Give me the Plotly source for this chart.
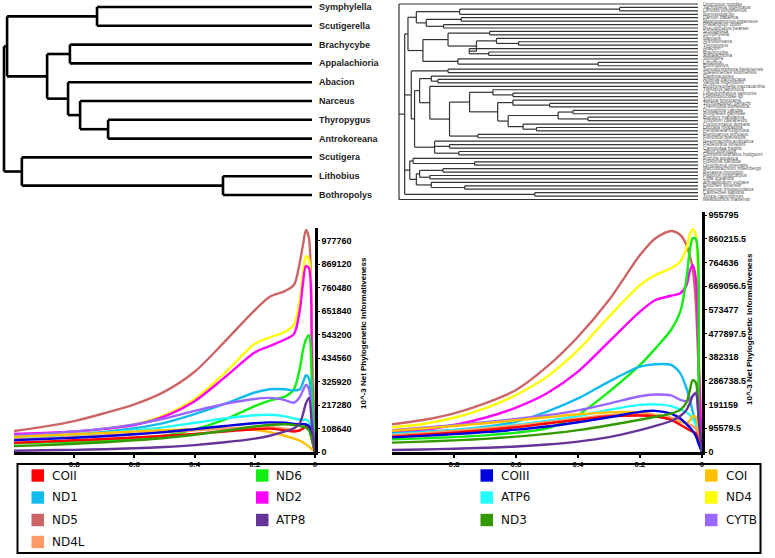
import plotly.graph_objects as go

W, H = 775, 558

# ---------------- curve data (values in thousands) ----------------
t_vals = [1.0, 0.9, 0.8, 0.7, 0.6, 0.5, 0.4, 0.3, 0.2, 0.15, 0.1, 0.07, 0.05, 0.04, 0.03, 0.02, 0.01, 0.0]

genes = ["COII", "ND6", "COIII", "COI", "ND1", "ND2", "ATP6", "ND4", "ND5", "ATP8", "ND3", "CYTB", "ND4L"]
gene_colors = ["#ff0000", "#11ee11", "#0000dd", "#ffc000", "#11bbee", "#ff00ff", "#22ffff",
               "#ffff00", "#cc6666", "#663399", "#339900", "#9966ff", "#ff9966"]
draw_order = ["ND5", "ND4", "ND2", "ND6", "ND1", "CYTB", "ATP6", "COI", "ND4L", "COII", "COIII", "ND3", "ATP8"]

L_COII = [43, 48, 54, 60, 67, 75, 84, 95, 105, 108, 100, 95, 100, 110, 120, 115, 60, 0]
L_ND6 = [40, 44, 48, 53, 60, 75, 105, 150, 212, 238, 256, 290, 390, 470, 520, 540, 300, 0]
L_COIII = [55, 60, 66, 73, 82, 92, 106, 120, 133, 137, 135, 130, 128, 130, 128, 120, 70, 0]
L_COI = [70, 76, 82, 88, 95, 101, 106, 110, 103, 92, 75, 62, 52, 45, 35, 25, 12, 0]
L_ND1 = [68, 74, 82, 93, 110, 135, 175, 222, 275, 290, 290, 285, 290, 320, 355, 340, 170, 0]
L_ND2 = [83, 88, 95, 107, 125, 165, 235, 345, 460, 490, 520, 545, 660, 780, 860, 850, 400, 0]
L_ATP6 = [63, 70, 78, 88, 100, 115, 135, 155, 170, 172, 165, 155, 150, 148, 150, 140, 80, 0]
L_ND4 = [80, 86, 93, 106, 127, 170, 245, 365, 500, 530, 555, 590, 710, 830, 905, 890, 450, 0]
L_ND5 = [97, 117, 143, 179, 220, 279, 371, 510, 656, 718, 744, 772, 880, 957, 1026, 988, 500, 0]
L_ATP8 = [6, 8, 10, 13, 17, 23, 32, 45, 62, 75, 95, 110, 135, 175, 225, 250, 120, 0]
L_ND3 = [27, 32, 38, 45, 54, 65, 80, 98, 118, 125, 128, 125, 120, 118, 112, 100, 55, 0]
L_CYTB = [78, 85, 95, 108, 128, 155, 190, 222, 245, 250, 240, 228, 255, 285, 310, 290, 150, 0]
L_ND4L = [58, 63, 69, 76, 84, 92, 100, 108, 115, 115, 108, 100, 102, 108, 115, 110, 55, 0]

R_COII = [62, 70, 78, 88, 100, 115, 130, 143, 147, 143, 130, 110, 95, 88, 82, 75, 40, 0]
R_ND6 = [51, 55, 60, 67, 78, 95, 149, 243, 351, 418, 492, 566, 700, 808, 862, 860, 100, 0]
R_COIII = [59, 65, 72, 80, 90, 103, 120, 140, 162, 166, 155, 135, 112, 100, 85, 65, 30, 0]
R_COI = [86, 95, 105, 116, 128, 140, 152, 160, 160, 150, 135, 122, 118, 125, 145, 140, 80, 0]
R_ND1 = [75, 82, 89, 102, 122, 163, 216, 284, 344, 354, 351, 317, 257, 216, 163, 122, 60, 0]
R_ND2 = [80, 89, 109, 138, 179, 237, 324, 445, 566, 613, 630, 640, 673, 727, 754, 700, 350, 0]
R_ATP6 = [70, 78, 88, 98, 110, 125, 145, 170, 190, 192, 185, 172, 160, 150, 135, 110, 60, 0]
R_ND4 = [100, 113, 138, 176, 230, 304, 411, 546, 673, 714, 741, 768, 821, 875, 899, 875, 400, 0]
R_ND5 = [112, 129, 156, 196, 250, 344, 465, 613, 794, 862, 891, 875, 835, 794, 741, 600, 300, 0]
R_ATP8 = [8, 10, 13, 17, 22, 30, 42, 60, 88, 105, 125, 145, 170, 195, 225, 235, 120, 0]
R_ND3 = [38, 42, 47, 53, 62, 73, 88, 108, 130, 142, 155, 170, 200, 245, 290, 280, 140, 0]
R_CYTB = [88, 98, 108, 120, 133, 148, 168, 195, 225, 232, 228, 210, 205, 212, 228, 240, 120, 0]
R_ND4L = [68, 76, 85, 95, 107, 120, 135, 148, 152, 148, 138, 125, 115, 110, 105, 95, 50, 0]

left_ticks = [0, 108640, 217280, 325920, 434560, 543200, 651840, 760480, 869120, 977760]
left_ticktext = ["0", "108640", "217280", "325920", "434560", "543200", "651840", "760480", "869120", "977760"]
right_ticks = [0, 95579.5, 191159, 286738.5, 382318, 477897.5, 573477, 669056.5, 764636, 860215.5, 955795]
right_ticktext = ["0", "95579.5", "191159", "286738.5", "382318", "477897.5", "573477", "669056.5",
                  "764636", "860215.5", "955795"]
x_ticks = [0.8, 0.6, 0.4, 0.2, 0.0]
x_ticktext = ["0.8", "0.6", "0.4", "0.2", "0"]
y_title = "10^-3 Net Phylogenetic Informativeness"

# ---------------- tree data ----------------
left_tree = (0.0, [
    (0.010, [
        (0.302, ["Symphylella", "Scutigerella"]),
        (0.140, [
            (0.214, ["Brachycybe", "Appalachioria"]),
            (0.208, ["Abacion", (0.247, ["Narceus", (0.338, ["Thyropygus", "Antrokoreana"])])]),
        ]),
    ]),
    (0.058, ["Scutigera", (0.711, ["Lithobius", "Bothropolys"])]),
])

right_names = [
    "Uroctonus mordax", "Tachypleus tridentatus", "Limulus polyphemus", "Nomostoga sp",
    "Damon diadema", "Mastigoproctus giganteus", "Phalangium opilio", "Pseudocellus pearsei",
    "Scutigerella", "Symphylella", "Narceus", "Antrokoreana", "Thyropygus", "Abacion",
    "Brachycybe", "Appalachioria", "Scutigera", "Lithobius", "Bothropolys",
    "Tetrodontophora bielanensis", "Speleonectes tulumensis", "Daphnia pulex",
    "Artemia franciscana", "Vargula hilgendorfii", "Hutchinsoniella macracantha",
    "Tigriopus japonicus", "Lepeophtheirus salmonis", "Lepidopsocidae sp", "Atelura formicaria",
    "Tricholepidion gertschi", "Thermobia domestica", "Drosophila yakuba", "Anopheles gambiae",
    "Bombyx mandarina", "Tribolium castaneum", "Cyclommatus dorsalis", "Locusta migratoria",
    "Periplaneta fuliginosa", "Pteronarcys princeps", "Petrobius brevistylis",
    "Nesomachilis australica", "Pedetontus silvestrii", "Campodea fragilis", "Japyx solifugus",
    "Gomphiocephalus hodgsoni", "Podura aquatica", "Folsomia candida", "Onychiurus orientalis",
    "Macrobrachium rosenbergii", "Penaeus monodon", "Pagurus longicarpus", "Ligia oceanica",
    "Armadillidium vulgare", "Eriocheir sinensis", "Portunus trituberculatus",
    "Callinectes sapidus", "Triops cancriformis", "Mesobuthus martensii",
]

right_tree = (0.0, [
    0,
    (0.019, [
        (0.030, [
            (0.058, [
                (0.203, [(0.738, [1, 2]), 3]),
                (0.091, [(0.208, [4, 5]), (0.149, [6, 7])]),
            ]),
            (0.080, [
                (0.164, [(0.303, [8, 9]),
                         (0.259, [(0.326, [10, (0.400, [11, 12])]), (0.235, [13, (0.300, [14, 15])])])]),
                (0.197, [16, (0.666, [17, 18])]),
            ]),
        ]),
        (0.041, [
            (0.164, [19, 20]),
            (0.052, [
                (0.069, [
                    (0.108, [21, (0.130, [22, 23])]),
                    (0.075, [
                        (0.103, [24, (0.169, [
                            (0.236, [
                                (0.314, [25, (0.381, [26, 27])]),
                                (0.330, [
                                    (0.381, [28, (0.504, [29, 30])]),
                                    (0.365, [(0.532, [(0.582, [31, 32]), (0.632, [33, 34])]),
                                             (0.415, [35, (0.460, [36, 37])])]),
                                ]),
                            ]),
                            (0.264, [38, 39]),
                        ])]),
                    ]),
                ]),
                (0.119, [40, (0.169, [41, 42]), (0.200, [43, 44])]),
            ]),
        ]),
        (0.036, [
            (0.047, [45, (0.253, [46, 47])]),
            (0.058, [
                (0.069, [(0.147, [48, 49]), (0.103, [50, 51])]),
                (0.108, [52, (0.220, [53, 54])]),
            ]),
        ]),
        (0.454, [55, 56]),
    ]),
    57,
])


def layout_tree(node, counter, segs, leaves):
    if not isinstance(node, tuple):
        y = counter[0]
        counter[0] += 1
        leaves.append((node, y))
        return 1.0, y
    d, kids = node
    pos = [layout_tree(k, counter, segs, leaves) for k in kids]
    for cd, cy in pos:
        segs.append(((d, cy), (cd, cy)))
    ys = [p[1] for p in pos]
    segs.append(((d, min(ys)), (d, max(ys))))
    return d, (ys[0] + ys[-1]) / 2.0


def seg_xy(segs):
    xs, ys = [], []
    for (x0, y0), (x1, y1) in segs:
        xs += [x0, x1, None]
        ys += [y0, y1, None]
    return xs, ys


def px_x(p):
    return p / W


def px_y(p):
    return 1 - p / H


fig = go.Figure()
annotations = []
shapes = []

# ---- left tree ----
segs, leaves = [], []
layout_tree(left_tree, [0], segs, leaves)
xs, ys = seg_xy(segs)
fig.add_trace(go.Scatter(x=xs, y=ys, mode="lines", line=dict(color="black", width=2.6),
                         xaxis="x", yaxis="y", hoverinfo="skip"))
for name, y in leaves:
    annotations.append(dict(x=1.0, y=y, xref="x", yref="y", text=name, showarrow=False,
                            xanchor="left", yanchor="middle", xshift=5,
                            font=dict(family="Liberation Sans", size=9, color="#222", weight="bold")))

# ---- right tree ----
segs, leaves = [], []
layout_tree(right_tree, [0], segs, leaves)
xs, ys = seg_xy(segs)
fig.add_trace(go.Scatter(x=xs, y=ys, mode="lines", line=dict(color="#333", width=1.2),
                         xaxis="x2", yaxis="y2", hoverinfo="skip"))
for idx, y in leaves:
    annotations.append(dict(x=1.0, y=y, xref="x2", yref="y2", text=right_names[idx], showarrow=False,
                            xanchor="left", yanchor="middle", xshift=3,
                            font=dict(family="Liberation Sans", size=4.8, color="#555")))

# ---- curves ----
left_vals = {"COII": L_COII, "ND6": L_ND6, "COIII": L_COIII, "COI": L_COI, "ND1": L_ND1, "ND2": L_ND2,
             "ATP6": L_ATP6, "ND4": L_ND4, "ND5": L_ND5, "ATP8": L_ATP8, "ND3": L_ND3, "CYTB": L_CYTB,
             "ND4L": L_ND4L}
right_vals = {"COII": R_COII, "ND6": R_ND6, "COIII": R_COIII, "COI": R_COI, "ND1": R_ND1, "ND2": R_ND2,
              "ATP6": R_ATP6, "ND4": R_ND4, "ND5": R_ND5, "ATP8": R_ATP8, "ND3": R_ND3, "CYTB": R_CYTB,
              "ND4L": R_ND4L}
color_of = dict(zip(genes, gene_colors))

for vals, xa, ya in [(left_vals, "x3", "y3"), (right_vals, "x4", "y4")]:
    for g in draw_order:
        fig.add_trace(go.Scatter(x=t_vals, y=[v * 1000 for v in vals[g]], mode="lines", name=g,
                                 line=dict(color=color_of[g], width=2.4, shape="spline", smoothing=0.8),
                                 xaxis=xa, yaxis=ya, hoverinfo="skip"))

tick_font = dict(family="Liberation Sans", size=9, color="black", weight="bold")
xtick_font = dict(family="Liberation Sans", size=8, color="black", weight="bold")

# ---- legend (drawn as a key box) ----
shapes.append(dict(type="rect", xref="paper", yref="paper", x0=px_x(17.5), x1=px_x(760.5),
                   y0=px_y(553), y1=px_y(464), line=dict(color="black", width=2)))
col_sq = [31.5, 256, 480.5, 705]
col_tx = [50, 274, 499, 724]
row_y = [475.5, 497.5, 520, 542]
for k, g in enumerate(genes):
    r, c = divmod(k, 4)
    shapes.append(dict(type="rect", xref="paper", yref="paper", x0=px_x(col_sq[c]), x1=px_x(col_sq[c] + 12.5),
                       y0=px_y(row_y[r] + 6.2), y1=px_y(row_y[r] - 6.2), line=dict(width=0),
                       fillcolor=color_of[g]))
    annotations.append(dict(x=px_x(col_tx[c]), y=px_y(row_y[r]), xref="paper", yref="paper", text=g,
                            showarrow=False, xanchor="left", yanchor="middle",
                            font=dict(family="DejaVu Sans", size=12, color="#111")))

# ---- y titles ----
for xp, yp in [(363, 333), (749, 329)]:
    annotations.append(dict(x=px_x(xp), y=px_y(yp), xref="paper", yref="paper", text=y_title,
                            showarrow=False, textangle=-90, xanchor="center", yanchor="middle",
                            font=dict(family="Liberation Sans", size=8, color="black", weight="bold")))

hidden = dict(visible=False, showgrid=False, zeroline=False)

fig.update_layout(
    width=W, height=H, margin=dict(l=0, r=0, t=0, b=0, autoexpand=False),
    paper_bgcolor="white", plot_bgcolor="white", showlegend=False,
    xaxis=dict(domain=[0, px_x(330)], range=[-4 / 308, 326 / 308], anchor="y", **hidden),
    yaxis=dict(domain=[px_y(210), 1], range=[(210 - 7) / 18.8, -7 / 18.8], anchor="x", **hidden),
    xaxis2=dict(domain=[px_x(390), px_x(705)], range=[(390 - 399) / 299, (705 - 399) / 299], anchor="y2", **hidden),
    yaxis2=dict(domain=[px_y(210), 1], range=[(210 - 4) / 3.43, -4 / 3.43], anchor="x2", **hidden),
    xaxis3=dict(domain=[px_x(14), px_x(315)], range=[1, 0], anchor="y3", showgrid=False, zeroline=False,
                showline=True, linecolor="black", linewidth=2.5, ticks="outside", ticklen=3,
                tickwidth=1.5, tickcolor="black", tickvals=x_ticks, ticktext=x_ticktext, tickfont=xtick_font),
    yaxis3=dict(domain=[px_y(452), px_y(228)], range=[0, (452 - 228) / 23.5 * 108640], anchor="x3",
                side="right", showgrid=False, zeroline=False, showline=True, linecolor="black",
                linewidth=2.5, ticks="outside", ticklen=2, tickwidth=1.2, tickcolor="black",
                tickvals=left_ticks, ticktext=left_ticktext, tickfont=tick_font),
    xaxis4=dict(domain=[px_x(392), px_x(702)], range=[1, 0], anchor="y4", showgrid=False, zeroline=False,
                showline=True, linecolor="black", linewidth=2.5, ticks="outside", ticklen=3,
                tickwidth=1.5, tickcolor="black", tickvals=x_ticks, ticktext=x_ticktext, tickfont=xtick_font),
    yaxis4=dict(domain=[px_y(452), px_y(212)], range=[0, (452 - 212) / 23.7 * 95579.5], anchor="x4",
                side="right", showgrid=False, zeroline=False, showline=True, linecolor="black",
                linewidth=2.5, ticks="outside", ticklen=2, tickwidth=1.2, tickcolor="black",
                tickvals=right_ticks, ticktext=right_ticktext, tickfont=tick_font),
    annotations=annotations, shapes=shapes,
)

fig.write_html("out.html", config={"displayModeBar": False},
               post_script="document.body.style.margin='0px';document.body.style.padding='0px';")
